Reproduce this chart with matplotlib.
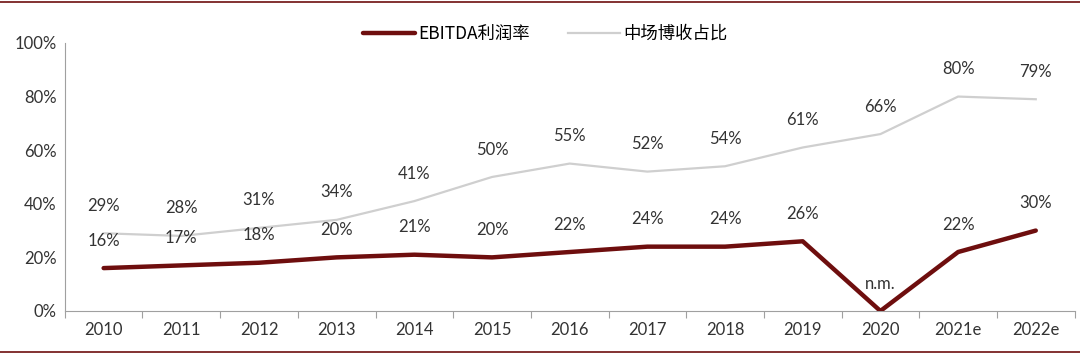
import numpy as np
import matplotlib.pyplot as plt
from matplotlib.lines import Line2D

plt.rcParams['font.family'] = ['Lato', 'Noto Sans CJK SC', 'DejaVu Sans']

years = ['2010', '2011', '2012', '2013', '2014', '2015', '2016', '2017', '2018', '2019', '2020', '2021e', '2022e']
ebitda = [16, 17, 18, 20, 21, 20, 22, 24, 24, 26, 0, 22, 30]
ebitda_labels = ['16%', '17%', '18%', '20%', '21%', '20%', '22%', '24%', '24%', '26%', 'n.m.', '22%', '30%']
mass_share = [29, 28, 31, 34, 41, 50, 55, 52, 54, 61, 66, 80, 79]

dark_red = '#6E0E0E'
light_gray = '#CFCFCF'
text_col = '#333333'

fig = plt.figure(figsize=(10.8, 3.55), dpi=100)
ax = fig.add_axes([0.060, 0.124, 0.935, 0.755])

x = np.arange(len(years)) + 0.5
ax.plot(x, mass_share, color=light_gray, lw=1.6, label='中场博收占比', zorder=2)
ax.plot(x, ebitda, color=dark_red, lw=3.2, label='EBITDA利润率', solid_capstyle='round', zorder=3)

for xi, v in zip(x, mass_share):
    ax.annotate(f'{v}%', (xi, v), xytext=(0, 14), textcoords='offset points',
                ha='center', va='bottom', fontsize=12, color=text_col)
for xi, v, lab in zip(x, ebitda, ebitda_labels):
    ax.annotate(lab, (xi, v), xytext=(0, 14), textcoords='offset points',
                ha='center', va='bottom', fontsize=12, color=text_col)

ax.set_xlim(0, len(years))
ax.set_ylim(0, 100)
ax.set_yticks(np.arange(0, 101, 20))
ax.set_yticklabels([f'{v}%' for v in range(0, 101, 20)])
ax.tick_params(axis='y', length=0, labelsize=12, colors=text_col, pad=6)

ax.set_xticks(np.arange(len(years) + 1))
ax.set_xticklabels([])
ax.set_xticks(x, minor=True)
ax.set_xticklabels(years, minor=True)
ax.tick_params(axis='x', which='major', length=5, color='#A0A0A0', direction='out')
ax.tick_params(axis='x', which='minor', length=0, labelsize=12, colors=text_col, pad=8)

for s in ['top', 'right']:
    ax.spines[s].set_visible(False)
for s in ['left', 'bottom']:
    ax.spines[s].set_color('#A0A0A0')
    ax.spines[s].set_linewidth(0.8)

handles, labels = ax.get_legend_handles_labels()
fig.legend(handles[::-1], labels[::-1], loc='center', bbox_to_anchor=(0.505, 0.905), ncol=2,
           frameon=False, handlelength=3.0, handletextpad=0.2, columnspacing=2.2,
           prop={'family': ['Noto Sans CJK SC', 'DejaVu Sans'], 'size': 12.5})

fig.add_artist(Line2D([0, 1], [0.995, 0.995], color=dark_red, lw=1.2, transform=fig.transFigure))
fig.add_artist(Line2D([0, 1], [0.009, 0.009], color=dark_red, lw=1.2, transform=fig.transFigure))

fig.savefig('out.png', dpi=100)
